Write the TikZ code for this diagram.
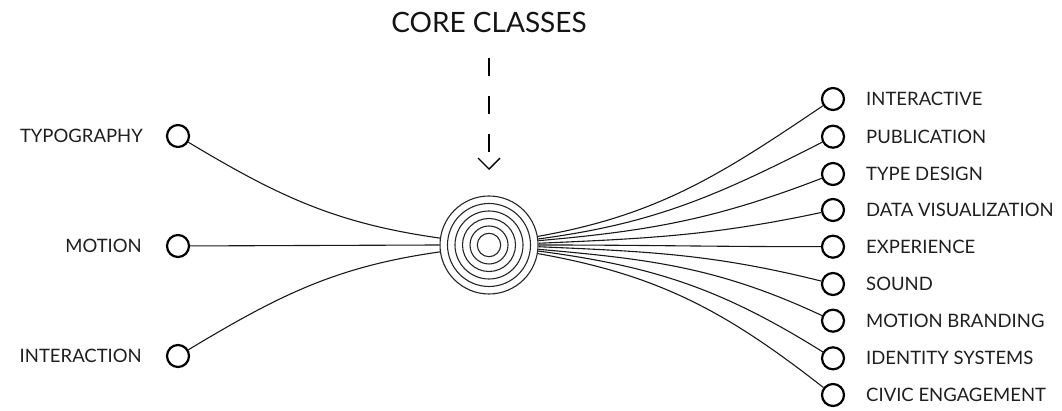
\documentclass[tikz,border=0pt]{standalone}
\usepackage{fontspec}
\setmainfont{Lato}
\usetikzlibrary{arrows.meta}
\begin{document}
\begin{tikzpicture}[x=1pt,y=1pt,
  dot/.style={circle,draw=black,line width=2.2pt,minimum size=22pt,inner sep=0pt},
  lbl/.style={text=black!88,font=\fontsize{18.5}{22}\selectfont,inner sep=0pt},
  conn/.style={line width=1.1pt,draw=black!90},
  ring/.style={line width=1.1pt,draw=black!85}]
\useasboundingbox (0,0) rectangle (1062,411);
% core
\node[circle,ring,minimum size=98pt,inner sep=0pt] (core) at (489,166) {};
\foreach \r in {41.5,34,26.5,19,11.7}{\draw[ring] (core.center) circle (\r);}
% title and arrow
\node[lbl,font=\fontsize{28}{32}\selectfont,text=black!92] (title) at (489,389) {CORE CLASSES};
\coordinate (aS) at (489,353);
\coordinate (aE) at (489,241);
\draw[line width=1.3pt,dash pattern=on 18pt off 20pt,-{Straight Barb[length=11pt,width=22pt,line width=1.3pt]}] (aS) -- (aE);
% left nodes
\node[dot] (l1) at (178,275) {};
\node[dot] (l2) at (178,165) {};
\node[dot] (l3) at (178,55) {};
\node[lbl,anchor=east] (tl1) at (143,275) {TYPOGRAPHY};
\node[lbl,anchor=east] (tl2) at (142,165) {MOTION};
\node[lbl,anchor=east] (tl3) at (142,55) {INTERACTION};
\draw[conn] (l1) to[out=-31,in=172] (core.172);
\draw[conn] (l2) -- (core.west);
\draw[conn] (l3) to[out=31,in=188] (core.188);
% right nodes
\foreach \i/\y/\t in {1/312/INTERACTIVE,2/274.3/PUBLICATION,3/237/TYPE DESIGN,4/201/DATA VISUALIZATION,5/164.3/EXPERIENCE,6/127/SOUND,7/90.3/MOTION BRANDING,8/52.7/IDENTITY SYSTEMS,9/16/CIVIC ENGAGEMENT}{
  \node[dot] (r\i) at (833,\y) {};
  \node[lbl,anchor=west] (tr\i) at (866,\y) {\t};
}
\draw[conn] (core.10) to[out=10,in=214] (r1);
\draw[conn] (core.7.5) to[out=7.5,in=207] (r2);
\draw[conn] (core.5) to[out=5,in=201] (r3);
\draw[conn] (core.2.5) to[out=2.5,in=192] (r4);
\draw[conn] (core.0) to[out=0,in=180] (r5);
\draw[conn] (core.-2.5) to[out=-2.5,in=166] (r6);
\draw[conn] (core.-5) to[out=-5,in=155] (r7);
\draw[conn] (core.-7.5) to[out=-7.5,in=148] (r8);
\draw[conn] (core.-10) to[out=-10,in=142] (r9);
\end{tikzpicture}
\end{document}
